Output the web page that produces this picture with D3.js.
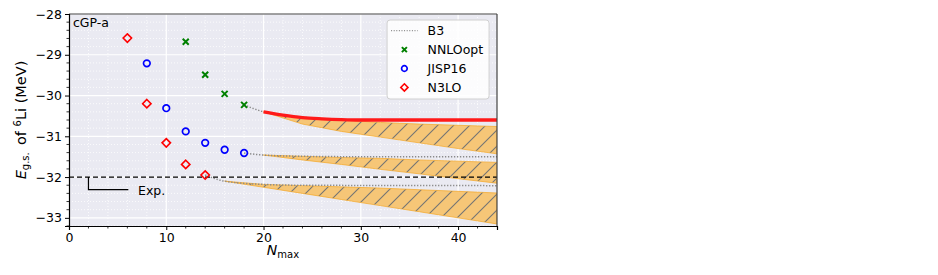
<!DOCTYPE html>
<html>
<head>
<meta charset="utf-8">
<script src="https://cdn.jsdelivr.net/npm/d3@7"></script>
<style>
html, body { margin: 0; padding: 0; background: #fff; overflow: hidden; }
text { font-family: "DejaVu Sans", sans-serif; fill: #000; }
</style>
</head>
<body>
<script>

// measured points
var nnloX = [12, 14, 16, 18],
    nnloY = [-28.68, -29.49, -29.96, -30.23];
var jispX = [8, 10, 12, 14, 16, 18],
    jispY = [-29.21, -30.31, -30.88, -31.16, -31.33, -31.41];
var n3loX = [6, 8, 10, 12, 14],
    n3loY = [-28.59, -30.20, -31.16, -31.69, -31.95];

// B3 extrapolation curves (dotted)
var b3NnloX = [18, 20, 24, 28, 32, 44],
    b3NnloY = [-30.23, -30.40, -30.53, -30.59, -30.60, -30.60];
var b3JispX = [18, 20, 24, 30, 44],
    b3JispY = [-31.41, -31.46, -31.49, -31.50, -31.50];
var b3N3loX = [14, 16, 20, 24, 44],
    b3N3loY = [-31.95, -32.10, -32.18, -32.20, -32.21];

// red curve on top of the NNLOopt band
var redX = [20, 22, 24, 26, 28, 30, 32, 44],
    redY = [-30.40, -30.48, -30.54, -30.57, -30.59, -30.60, -30.60, -30.60];

// uncertainty bands
var bandNnloX = [20, 24, 28, 32, 36, 40, 44],
    bandNnloHi = [-30.40, -30.54, -30.60, -30.66, -30.70, -30.73, -30.76],
    bandNnloLo = [-30.40, -30.70, -30.88, -31.02, -31.16, -31.30, -31.43];
var bandJispX = [20, 24, 28, 32, 36, 40, 44],
    bandJispHi = [-31.46, -31.49, -31.52, -31.54, -31.58, -31.61, -31.64],
    bandJispLo = [-31.46, -31.58, -31.69, -31.81, -31.92, -32.04, -32.15];
var bandN3loX = [16, 20, 24, 28, 32, 36, 40, 44],
    bandN3loHi = [-32.10, -32.18, -32.21, -32.24, -32.27, -32.31, -32.35, -32.39],
    bandN3loLo = [-32.10, -32.25, -32.40, -32.55, -32.70, -32.85, -33.00, -33.15];

var expValue = -32;
var expBracketX = [2, 2, 6.1],
    expBracketY = [-32, -32.31, -32.31];

var xTicks = [0, 10, 20, 30, 40],
    yTicks = [-33, -32, -31, -30, -29, -28];
var legendLabels = ['B3', 'NNLOopt', 'JISP16', 'N3LO'];

var W = 938, H = 275;
var margin = {left: 69, top: 14, right: 441, bottom: 49};
var pw = W - margin.left - margin.right,
    ph = H - margin.top - margin.bottom;

var svg = d3.select('body').append('svg')
  .attr('width', W)
  .attr('height', H);

var x = d3.scaleLinear().domain([0, 44]).range([0, pw]);
var y = d3.scaleLinear().domain([-33.2, -28]).range([ph, 0]);

var defs = svg.append('defs');
defs.append('clipPath').attr('id', 'clip')
  .append('rect').attr('width', pw).attr('height', ph);

var hs = 16;
var pat = defs.append('pattern')
  .attr('id', 'hatch')
  .attr('patternUnits', 'userSpaceOnUse')
  .attr('width', hs).attr('height', hs);
pat.append('rect').attr('width', hs).attr('height', hs).attr('fill', '#f6c677');
pat.append('path')
  .attr('d', 'M0,' + hs + 'L' + hs + ',0M-4,4L4,-4M' + (hs - 4) + ',' + (hs + 4) + 'L' + (hs + 4) + ',' + (hs - 4))
  .attr('stroke', '#747474')
  .attr('stroke-width', 1.1);

var g = svg.append('g').attr('transform', 'translate(' + margin.left + ',' + margin.top + ')');

g.append('rect').attr('width', pw).attr('height', ph).attr('fill', '#eaeaf2');

// minor grid
var xMinor = d3.range(2, 44, 2).filter(function(d){ return d % 10 !== 0; });
var yMinor = d3.range(-33.2, -28, 0.2).map(function(d){ return +d.toFixed(1); })
  .filter(function(d){ return Math.abs(d - Math.round(d)) > 0.01; });

g.append('g').selectAll('line').data(xMinor).enter().append('line')
  .attr('x1', x).attr('x2', x).attr('y1', 0).attr('y2', ph)
  .attr('stroke', '#fff').attr('stroke-width', 0.8).attr('stroke-dasharray', '1,2');
g.append('g').selectAll('line').data(yMinor).enter().append('line')
  .attr('y1', y).attr('y2', y).attr('x1', 0).attr('x2', pw)
  .attr('stroke', '#fff').attr('stroke-width', 0.8).attr('stroke-dasharray', '1,2');

// major grid
g.append('g').selectAll('line').data(xTicks).enter().append('line')
  .attr('x1', x).attr('x2', x).attr('y1', 0).attr('y2', ph)
  .attr('stroke', '#fff').attr('stroke-width', 1.2);
g.append('g').selectAll('line').data(yTicks).enter().append('line')
  .attr('y1', y).attr('y2', y).attr('x1', 0).attr('x2', pw)
  .attr('stroke', '#fff').attr('stroke-width', 1.2);

var plot = g.append('g').attr('clip-path', 'url(#clip)');

function band(xs, hi, lo) {
  var pts = xs.map(function(d, i){ return {x: d, hi: hi[i], lo: lo[i]}; });
  var area = d3.area()
    .x(function(d){ return x(d.x); })
    .y0(function(d){ return y(d.lo); })
    .y1(function(d){ return y(d.hi); });
  plot.append('path').datum(pts)
    .attr('d', area)
    .attr('fill', 'url(#hatch)')
    .attr('stroke', '#f5a623')
    .attr('stroke-opacity', 0.7)
    .attr('stroke-width', 1);
}
band(bandNnloX, bandNnloHi, bandNnloLo);
band(bandJispX, bandJispHi, bandJispLo);
band(bandN3loX, bandN3loHi, bandN3loLo);

var line = d3.line()
  .x(function(d){ return x(d[0]); })
  .y(function(d){ return y(d[1]); })
  .curve(d3.curveMonotoneX);

function zip(a, b) { return a.map(function(d, i){ return [d, b[i]]; }); }

[[b3NnloX, b3NnloY], [b3JispX, b3JispY], [b3N3loX, b3N3loY]].forEach(function(c){
  plot.append('path').datum(zip(c[0], c[1]))
    .attr('d', line)
    .attr('fill', 'none')
    .attr('stroke', '#8a8a8a')
    .attr('stroke-width', 1.5)
    .attr('stroke-dasharray', '1.3,1.7');
});

plot.append('path').datum(zip(redX, redY))
  .attr('d', line)
  .attr('fill', 'none')
  .attr('stroke', '#ff1a1a')
  .attr('stroke-width', 3.3);

// experiment
plot.append('line')
  .attr('x1', 0).attr('x2', pw)
  .attr('y1', y(expValue)).attr('y2', y(expValue))
  .attr('stroke', '#000').attr('stroke-width', 1.3)
  .attr('stroke-dasharray', '5,3');

g.append('path').datum(zip(expBracketX, expBracketY))
  .attr('d', d3.line().x(function(d){ return x(d[0]); }).y(function(d){ return y(d[1]); }))
  .attr('fill', 'none').attr('stroke', '#000').attr('stroke-width', 1.2);
g.append('text')
  .attr('x', x(7.1)).attr('y', y(-32.31) + 5)
  .attr('font-size', 12.5)
  .text('Exp.');

// markers
function drawX(sel, s) {
  sel.append('path')
    .attr('d', 'M' + (-s) + ',' + (-s) + 'L' + s + ',' + s + 'M' + (-s) + ',' + s + 'L' + s + ',' + (-s))
    .attr('stroke', '#008000').attr('stroke-width', 2).attr('fill', 'none');
}
function drawO(sel, r) {
  sel.append('circle').attr('r', r)
    .attr('stroke', '#0000ff').attr('stroke-width', 1.7).attr('fill', 'none');
}
function drawD(sel, s) {
  sel.append('path')
    .attr('d', 'M0,' + (-s) + 'L' + s + ',0L0,' + s + 'L' + (-s) + ',0Z')
    .attr('stroke', '#ff0000').attr('stroke-width', 1.6).attr('fill', 'none');
}

g.selectAll('g.nnlo').data(zip(nnloX, nnloY)).enter().append('g')
  .attr('transform', function(d){ return 'translate(' + x(d[0]) + ',' + y(d[1]) + ')'; })
  .each(function(){ drawX(d3.select(this), 3); });
g.selectAll('g.jisp').data(zip(jispX, jispY)).enter().append('g')
  .attr('transform', function(d){ return 'translate(' + x(d[0]) + ',' + y(d[1]) + ')'; })
  .each(function(){ drawO(d3.select(this), 3.3); });
g.selectAll('g.n3lo').data(zip(n3loX, n3loY)).enter().append('g')
  .attr('transform', function(d){ return 'translate(' + x(d[0]) + ',' + y(d[1]) + ')'; })
  .each(function(){ drawD(d3.select(this), 4.2); });

// spines
g.append('line').attr('x1', 0).attr('x2', pw).attr('y1', 0).attr('y2', 0).attr('stroke', '#444').attr('stroke-width', 1.2);
g.append('line').attr('x1', pw).attr('x2', pw).attr('y1', 0).attr('y2', ph).attr('stroke', '#444').attr('stroke-width', 1.2);

// axes
var xAxis = d3.axisBottom(x).tickValues(xTicks).tickSize(4).tickPadding(3).tickFormat(d3.format('d'));
var yAxis = d3.axisLeft(y).tickValues(yTicks).tickSize(4).tickPadding(3)
  .tickFormat(function(d){ return d3.format('d')(d).replace('-', '\u2212'); });

var gx = g.append('g').attr('transform', 'translate(0,' + ph + ')').call(xAxis);
var gy = g.append('g').call(yAxis);
[gx, gy].forEach(function(a){
  a.select('.domain').attr('stroke', '#000').attr('stroke-width', 1.2);
  a.selectAll('.tick line').attr('stroke', '#000').attr('stroke-width', 1);
  a.selectAll('.tick text').attr('font-size', 12.5).attr('font-family', '"DejaVu Sans", sans-serif').attr('fill', '#000');
});
gx.append('g').selectAll('line').data(xMinor).enter().append('line')
  .attr('x1', x).attr('x2', x).attr('y1', 0).attr('y2', 2.5).attr('stroke', '#000').attr('stroke-width', 0.8);
gy.append('g').selectAll('line').data(yMinor).enter().append('line')
  .attr('y1', y).attr('y2', y).attr('x1', 0).attr('x2', -2.5).attr('stroke', '#000').attr('stroke-width', 0.8);

// labels
g.append('text')
  .attr('x', 4).attr('y', 13)
  .attr('font-size', 12.5)
  .text('cGP-a');

var xl = svg.append('text')
  .attr('x', margin.left + pw / 2).attr('y', 255)
  .attr('text-anchor', 'middle')
  .attr('font-size', 14);
xl.append('tspan').attr('font-style', 'italic').text('N');
xl.append('tspan').attr('font-size', 10).attr('dy', 3).text('max');

var yl = svg.append('text')
  .attr('transform', 'translate(26,' + (margin.top + ph / 2) + ') rotate(-90)')
  .attr('text-anchor', 'middle')
  .attr('font-size', 14.5);
yl.append('tspan').attr('font-style', 'italic').text('E');
yl.append('tspan').attr('font-size', 10).attr('dy', 3).text('g.s.');
yl.append('tspan').attr('dy', -3).text('\u2002of ');
yl.append('tspan').attr('font-size', 10).attr('dy', -5).text('6');
yl.append('tspan').attr('dy', 5).text('Li (MeV)');

// legend
var lg = g.append('g').attr('transform', 'translate(' + (x(32.7)) + ',6)');
lg.append('rect')
  .attr('width', 102).attr('height', 79)
  .attr('rx', 3)
  .attr('fill', '#fff').attr('fill-opacity', 0.85)
  .attr('stroke', '#d0d0d0');
var rows = lg.selectAll('g.row').data(legendLabels).enter().append('g')
  .attr('transform', function(d, i){ return 'translate(0,' + (10.7 + i * 18.9) + ')'; });
rows.append('text')
  .attr('x', 40.5).attr('y', 4.5)
  .attr('font-size', 12.5)
  .text(function(d){ return d; });
rows.each(function(d, i){
  var r = d3.select(this);
  if (i === 0) {
    r.append('line').attr('x1', 4).attr('x2', 30.6).attr('y1', 0).attr('y2', 0)
      .attr('stroke', '#8a8a8a').attr('stroke-width', 1.3).attr('stroke-dasharray', '1,1.6');
  } else {
    var m = r.append('g').attr('transform', 'translate(17.3,0)');
    if (i === 1) drawX(m, 2.5);
    if (i === 2) drawO(m, 2.8);
    if (i === 3) drawD(m, 3.6);
  }
});

</script>
</body>
</html>
